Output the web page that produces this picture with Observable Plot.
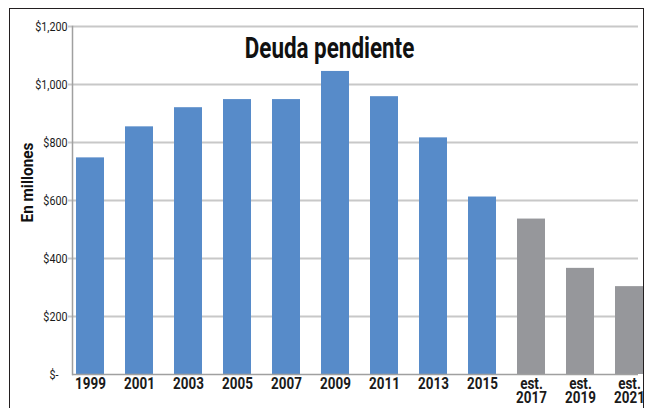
<!DOCTYPE html>
<html>
<head>
<meta charset="utf-8">
<script src="https://cdn.jsdelivr.net/npm/d3@7"></script>
<script src="https://cdn.jsdelivr.net/npm/@observablehq/plot@0.6"></script>
<style>
  html, body { margin: 0; padding: 0; background: #fff; }
  #wrap { position: relative; width: 645px; height: 408px; overflow: hidden; }
  #border { position: absolute; left: 9px; top: 8px; width: 633px; height: 420px; border: 1.6px solid #231f20; pointer-events: none; }
</style>
</head>
<body>
<div id="wrap"><div id="border"></div></div>
<script>
const years = ["1999","2001","2003","2005","2007","2009","2011","2013","2015","est.\n2017","est.\n2019","est.\n2021"];
const debt = [747, 854, 920, 948, 948, 1045, 958, 816, 612, 536, 366, 303];
const kind = ["real","real","real","real","real","real","real","real","real","est","est","est"];
const yTicks = [200, 400, 600, 800, 1000, 1200];
const title = "Deuda pendiente";
const yLabel = "En millones";

const data = years.map((y, i) => ({year: y, value: debt[i], kind: kind[i]}));
const font = "Roboto, 'DejaVu Sans Condensed', sans-serif";

const chart = Plot.plot({
  width: 645,
  height: 408,
  marginTop: 26,
  marginBottom: 34,
  marginLeft: 72,
  marginRight: 7,
  style: {fontFamily: font, color: "#1a1a1a", background: "transparent", overflow: "visible"},
  x: {type: "band", domain: years, range: [53.8, 665.4], padding: 0.43, axis: null},
  y: {domain: [0, 1200], axis: null},
  color: {domain: ["real", "est"], range: ["#578bc9", "#96979b"]},
  marks: [
    Plot.gridY(yTicks, {stroke: "#c8c8c8", strokeWidth: 2, strokeOpacity: 1}),
    Plot.axisY(yTicks, {
      tickSize: 4, tickPadding: 1, stroke: "#c8c8c8", strokeWidth: 2, strokeOpacity: 1,
      tickFormat: d => "$" + d3.format(",")(d),
      fontSize: 12.5, fill: "#1a1a1a", label: null
    }),
    Plot.axisY([0], {
      tickSize: 0, tickPadding: 14, tickFormat: () => "$-",
      fontSize: 12.5, fill: "#1a1a1a", label: null
    }),
    Plot.barY(data, {x: "year", y: "value", fill: "kind"}),
    Plot.ruleY([0], {stroke: "#a0a0a0", strokeWidth: 1.5}),
    Plot.frame({anchor: "left", stroke: "#a0a0a0", strokeWidth: 1.5}),
    Plot.axisX(years, {
      x: d => d, tickSize: 0, tickPadding: 4, fontSize: 17, fontWeight: "bold",
      lineHeight: 0.84, fill: "#1a1a1a", label: null
    }),
    Plot.text([title], {
      frameAnchor: "top", lineAnchor: "middle", dx: -26, dy: 22, fontSize: 29.5, fontWeight: "bold",
      fill: "#111", textAnchor: "middle"
    }),
    Plot.text([yLabel], {
      frameAnchor: "left", lineAnchor: "middle", dx: -44.4, dy: -18, rotate: -90, fontSize: 16.5,
      fontWeight: "bold", fill: "#111", textAnchor: "middle"
    })
  ]
});

// Condense the glyphs horizontally to mimic the reference's condensed typeface
const squeeze = (sel, k) => d3.select(chart).selectAll(sel).each(function () {
  const t = this.getAttribute("transform") || "";
  this.setAttribute("transform", t + ` scale(${k},1)`);
});
squeeze('g[aria-label="y-axis tick label"] text', 0.86);
squeeze('g[aria-label="x-axis tick label"] text', 0.79);
d3.select(chart).selectAll('g[aria-label="text"] text').each(function () {
  const k = this.textContent === title ? 0.76 : 0.93;
  const t = this.getAttribute("transform") || "";
  this.setAttribute("transform", t + ` scale(${k},1)`);
});

document.getElementById("wrap").prepend(chart);
</script>
</body>
</html>
